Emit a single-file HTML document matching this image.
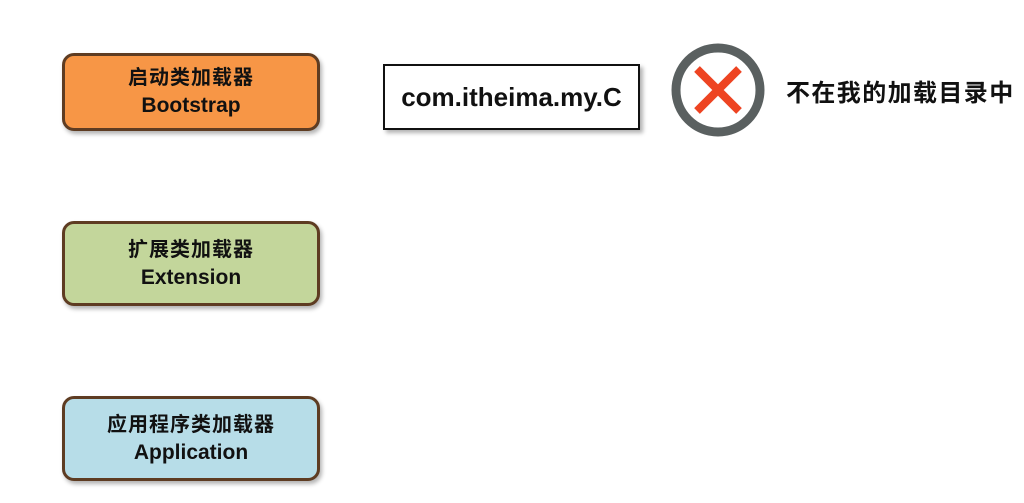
<!DOCTYPE html>
<html><head><meta charset="utf-8"><style>
body{margin:0;width:1024px;height:503px;background:#fff;position:relative;overflow:hidden;font-family:"Liberation Sans","Noto Sans CJK SC",sans-serif;}
.b{position:absolute;left:62px;width:252px;border:3px solid #5e3c22;border-radius:12px;box-shadow:2px 3px 4px rgba(0,0,0,.3);display:flex;flex-direction:column;justify-content:center;align-items:center;font-weight:bold;color:#111;font-size:21px;line-height:27px;}
.b .c{font-size:20px;letter-spacing:1px;}
</style></head><body>
<div class="b" style="top:53px;height:72px;background:#f79646"><div class="c">启动类加载器</div><div>Bootstrap</div></div>
<div class="b" style="top:221px;height:79px;background:#c3d69b"><div class="c">扩展类加载器</div><div>Extension</div></div>
<div class="b" style="top:396px;height:79px;background:#b7dde8"><div class="c">应用程序类加载器</div><div>Application</div></div>
<div style="position:absolute;left:383px;top:64px;width:253px;height:62px;border:2px solid #111;box-shadow:3px 3px 4px rgba(0,0,0,.3);display:flex;align-items:center;justify-content:center;font-weight:bold;font-size:26px;color:#111">com.itheima.my.C</div>
<svg style="position:absolute;left:0;top:0" width="1024" height="503">
<circle cx="718" cy="90" r="42" fill="none" stroke="#5a6060" stroke-width="9"/>
<path d="M697 69L739 111M739 69L697 111" stroke="#ee4422" stroke-width="8"/>
</svg>
<div style="position:absolute;left:786px;top:76px;font-size:24px;letter-spacing:1.4px;font-weight:bold;color:#111;font-family:'Noto Sans CJK SC',sans-serif;line-height:30px;white-space:nowrap">不在我的加载目录中</div>
</body></html>
